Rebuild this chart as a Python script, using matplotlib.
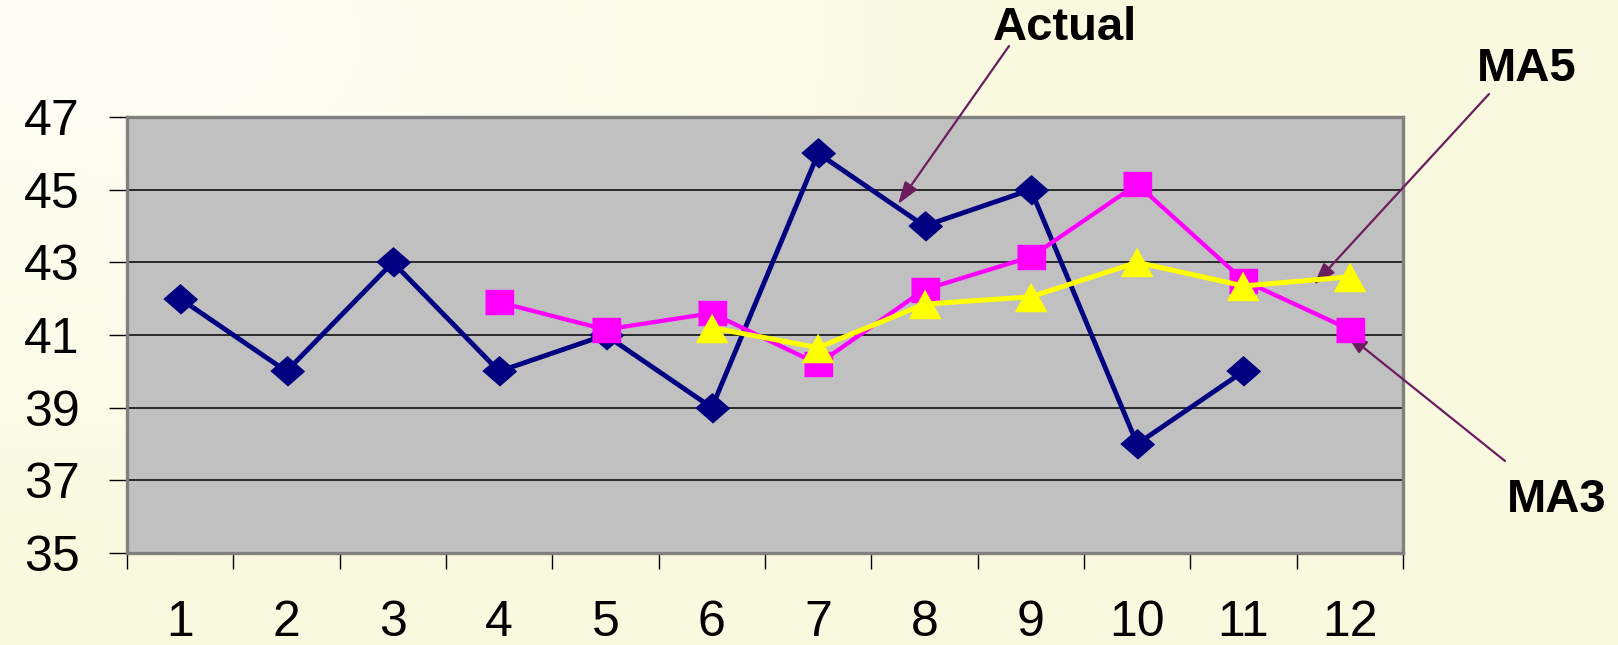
import numpy as np
import matplotlib
matplotlib.use("Agg")
import matplotlib.pyplot as plt

# ---- data ----
periods = list(range(1, 13))
actual = [42, 40, 43, 40, 41, 39, 46, 44, 45, 38, 40]
ma3 = [41.9, 41.15, 41.6, 40.2, 42.25, 43.15, 45.15, 42.5, 41.15]
ma5 = [41.2, 40.65, 41.85, 42.05, 43.0, 42.35, 42.6]
yticks = [35, 37, 39, 41, 43, 45, 47]

plt.rcParams['font.family'] = ['Liberation Sans', 'DejaVu Sans']

W, H = 1618, 645
fig = plt.figure(figsize=(W / 100, H / 100), dpi=100)

# pale yellow slide background, lighter towards the top-left
bg = fig.add_axes([0, 0, 1, 1], zorder=-10)
yy, xx = np.mgrid[0:H, 0:W]
t = np.clip(np.sqrt(((xx - 120) / 950.0) ** 2 + ((yy - 40) / 520.0) ** 2), 0, 1)
light = np.array([254, 254, 247]) / 255
base = np.array([250, 250, 224]) / 255
img = light * (1 - t[..., None]) + base * t[..., None]
bg.imshow(img, aspect='auto', extent=[0, 1, 0, 1])
bg.axis('off')

ax = fig.add_axes([127 / W, (H - 553) / H, 1276 / W, 436 / H])
ax.set_facecolor('#C0C0C0')
ax.set_xlim(0.5, 12.5)
ax.set_ylim(35, 47)
ax.set_yticks(yticks)
ax.grid(axis='y', color='black', lw=1.1)
ax.set_axisbelow(True)
for s in ax.spines.values():
    s.set_color('#808080')
    s.set_linewidth(2.4)

ax.set_xticks(periods)
ax.set_xticks(np.arange(0.5, 13, 1), minor=True)
ax.tick_params(axis='x', which='major', length=0, pad=34, labelsize=36)
ax.tick_params(axis='x', which='minor', length=11.5, width=1, color='black')
ax.tick_params(axis='y', length=13, width=1, color='black', pad=21, labelsize=36)

diamond = [(-1, 0), (0, 0.875), (1, 0), (0, -0.875)]
square = [(-1, -0.87), (1, -0.87), (1, 0.87), (-1, 0.87)]
tri = [(0, 0.9), (-1, -0.9), (1, -0.9)]

ax.plot(periods[:len(actual)], actual, color='#000080', lw=3.5,
        marker=diamond, ms=24, zorder=3)
ax.plot(periods[3:], ma3, color='#FF00FF', lw=3.1, marker=square, ms=20.5, zorder=4)
ax.plot(periods[5:], ma5, color='#FFFF00', lw=3.6, marker=tri, ms=22.5, zorder=5)

# callouts
acol = '#6B1E5E'
aprops = dict(arrowstyle='-|>,head_length=0.9,head_width=0.3', color=acol,
              lw=1.6, mutation_scale=15, shrinkA=0, shrinkB=0)
for tip, tail in [((7.75, 44.6), (1009, H - 46)),
                  ((11.66, 42.38), (1489, H - 94)),
                  ((11.96, 41.05), (1505, H - 461))]:
    ax.annotate('', xy=tip, xycoords='data', xytext=tail,
                textcoords='figure pixels', arrowprops=aprops,
                annotation_clip=False)

for label, px, py in [('Actual', 1065, 28), ('MA5', 1527, 69), ('MA3', 1557, 500)]:
    fig.text(px / W, 1 - py / H, label, ha='center', va='center',
             fontsize=34, fontweight='bold')

fig.savefig('out.png', dpi=100)
